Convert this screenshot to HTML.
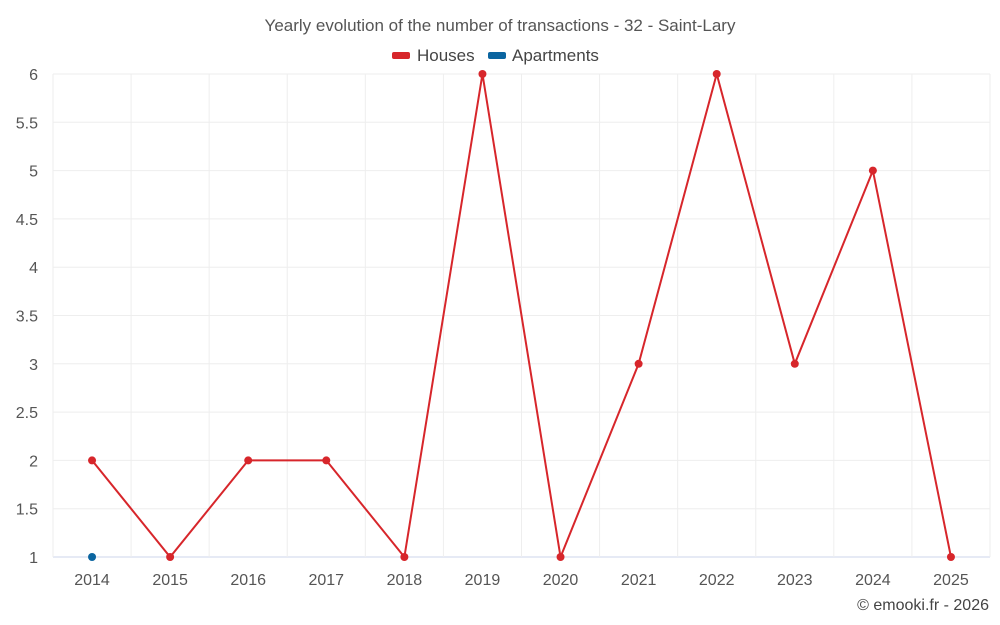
<!DOCTYPE html>
<html><head><meta charset="utf-8"><style>
html,body{margin:0;padding:0;background:#fff;}
svg{display:block;font-family:"Liberation Sans",Roboto,sans-serif;}
</style></head><body>
<svg id="chart" width="1000" height="625"></svg>
<script>
const categories=["2014","2015","2016","2017","2018","2019","2020","2021","2022","2023","2024","2025"];
const houses=[2,1,2,2,1,6,1,3,6,3,5,1];
const apartments=[1,null,null,null,null,null,null,null,null,null,null,null];
const yTicks=[1,1.5,2,2.5,3,3.5,4,4.5,5,5.5,6];
const yTickLabels=["1","1.5","2","2.5","3","3.5","4","4.5","5","5.5","6"];
const NS="http://www.w3.org/2000/svg";
const svg=document.getElementById('chart');
const L=53,R=990,T=74,B=557,yMin=1,yMax=6;
const bw=(R-L)/categories.length;
function x(i){return L+bw*(i+0.5);}
function y(v){return B-(v-yMin)/(yMax-yMin)*(B-T);}
function mk(tag,attrs,parent){const e=document.createElementNS(NS,tag);for(const k in attrs)e.setAttribute(k,attrs[k]);(parent||svg).appendChild(e);return e;}
for(let i=0;i<yTicks.length;i++){
  const g=mk('line',{x1:L,x2:R,y1:y(yTicks[i]),y2:y(yTicks[i]),stroke:i===0?'#ccd6eb':'#eeeeee','stroke-width':1});
  
  
  const t=mk('text',{x:38,y:y(yTicks[i])+6,'text-anchor':'end','font-size':16,fill:'#555'});
  t.textContent=yTickLabels[i];
  
  
}
for(let i=0;i<=categories.length;i++){
  const g=mk('line',{x1:L+bw*i,x2:L+bw*i,y1:T,y2:B,stroke:'#eeeeee','stroke-width':1});
  
  
}
categories.forEach((c,i)=>{
  const t=mk('text',{x:x(i),y:585,'text-anchor':'middle','font-size':16,fill:'#555'});
  t.textContent=c;
  
  
});
const pts=houses.map((v,i)=>v==null?null:[x(i),y(v)]).filter(p=>p);
const pl=mk('polyline',{points:pts.map(p=>p.join(',')).join(' '),fill:'none',stroke:'#d7262b','stroke-width':2});


houses.forEach((v,i)=>{if(v==null)return;
  const c=mk('circle',{cx:x(i),cy:y(v),r:4,fill:'#d7262b'});
  
  
});
apartments.forEach((v,i)=>{if(v==null)return;
  const c=mk('circle',{cx:x(i),cy:y(v),r:4,fill:'#0b65a0'});
  
  
});
</script>
<svg style="position:absolute;left:0;top:0" width="1000" height="625">
<text x="500" y="31" text-anchor="middle" font-size="17" fill="#555" font-family="Liberation Sans,sans-serif">Yearly evolution of the number of transactions - 32 - Saint-Lary</text>
<g><rect x="392" y="52" width="18" height="7" rx="2" fill="#d7262b"/><text x="417" y="61" font-size="17" fill="#444" font-family="Liberation Sans,sans-serif">Houses</text></g>
<g><rect x="488" y="52" width="18" height="7" rx="2" fill="#0b65a0"/><text x="512" y="61" font-size="17" fill="#444" font-family="Liberation Sans,sans-serif">Apartments</text></g>
<text x="989" y="610" text-anchor="end" font-size="16" fill="#444" font-family="Liberation Sans,sans-serif">© emooki.fr - 2026</text>
</svg>
</body></html>
